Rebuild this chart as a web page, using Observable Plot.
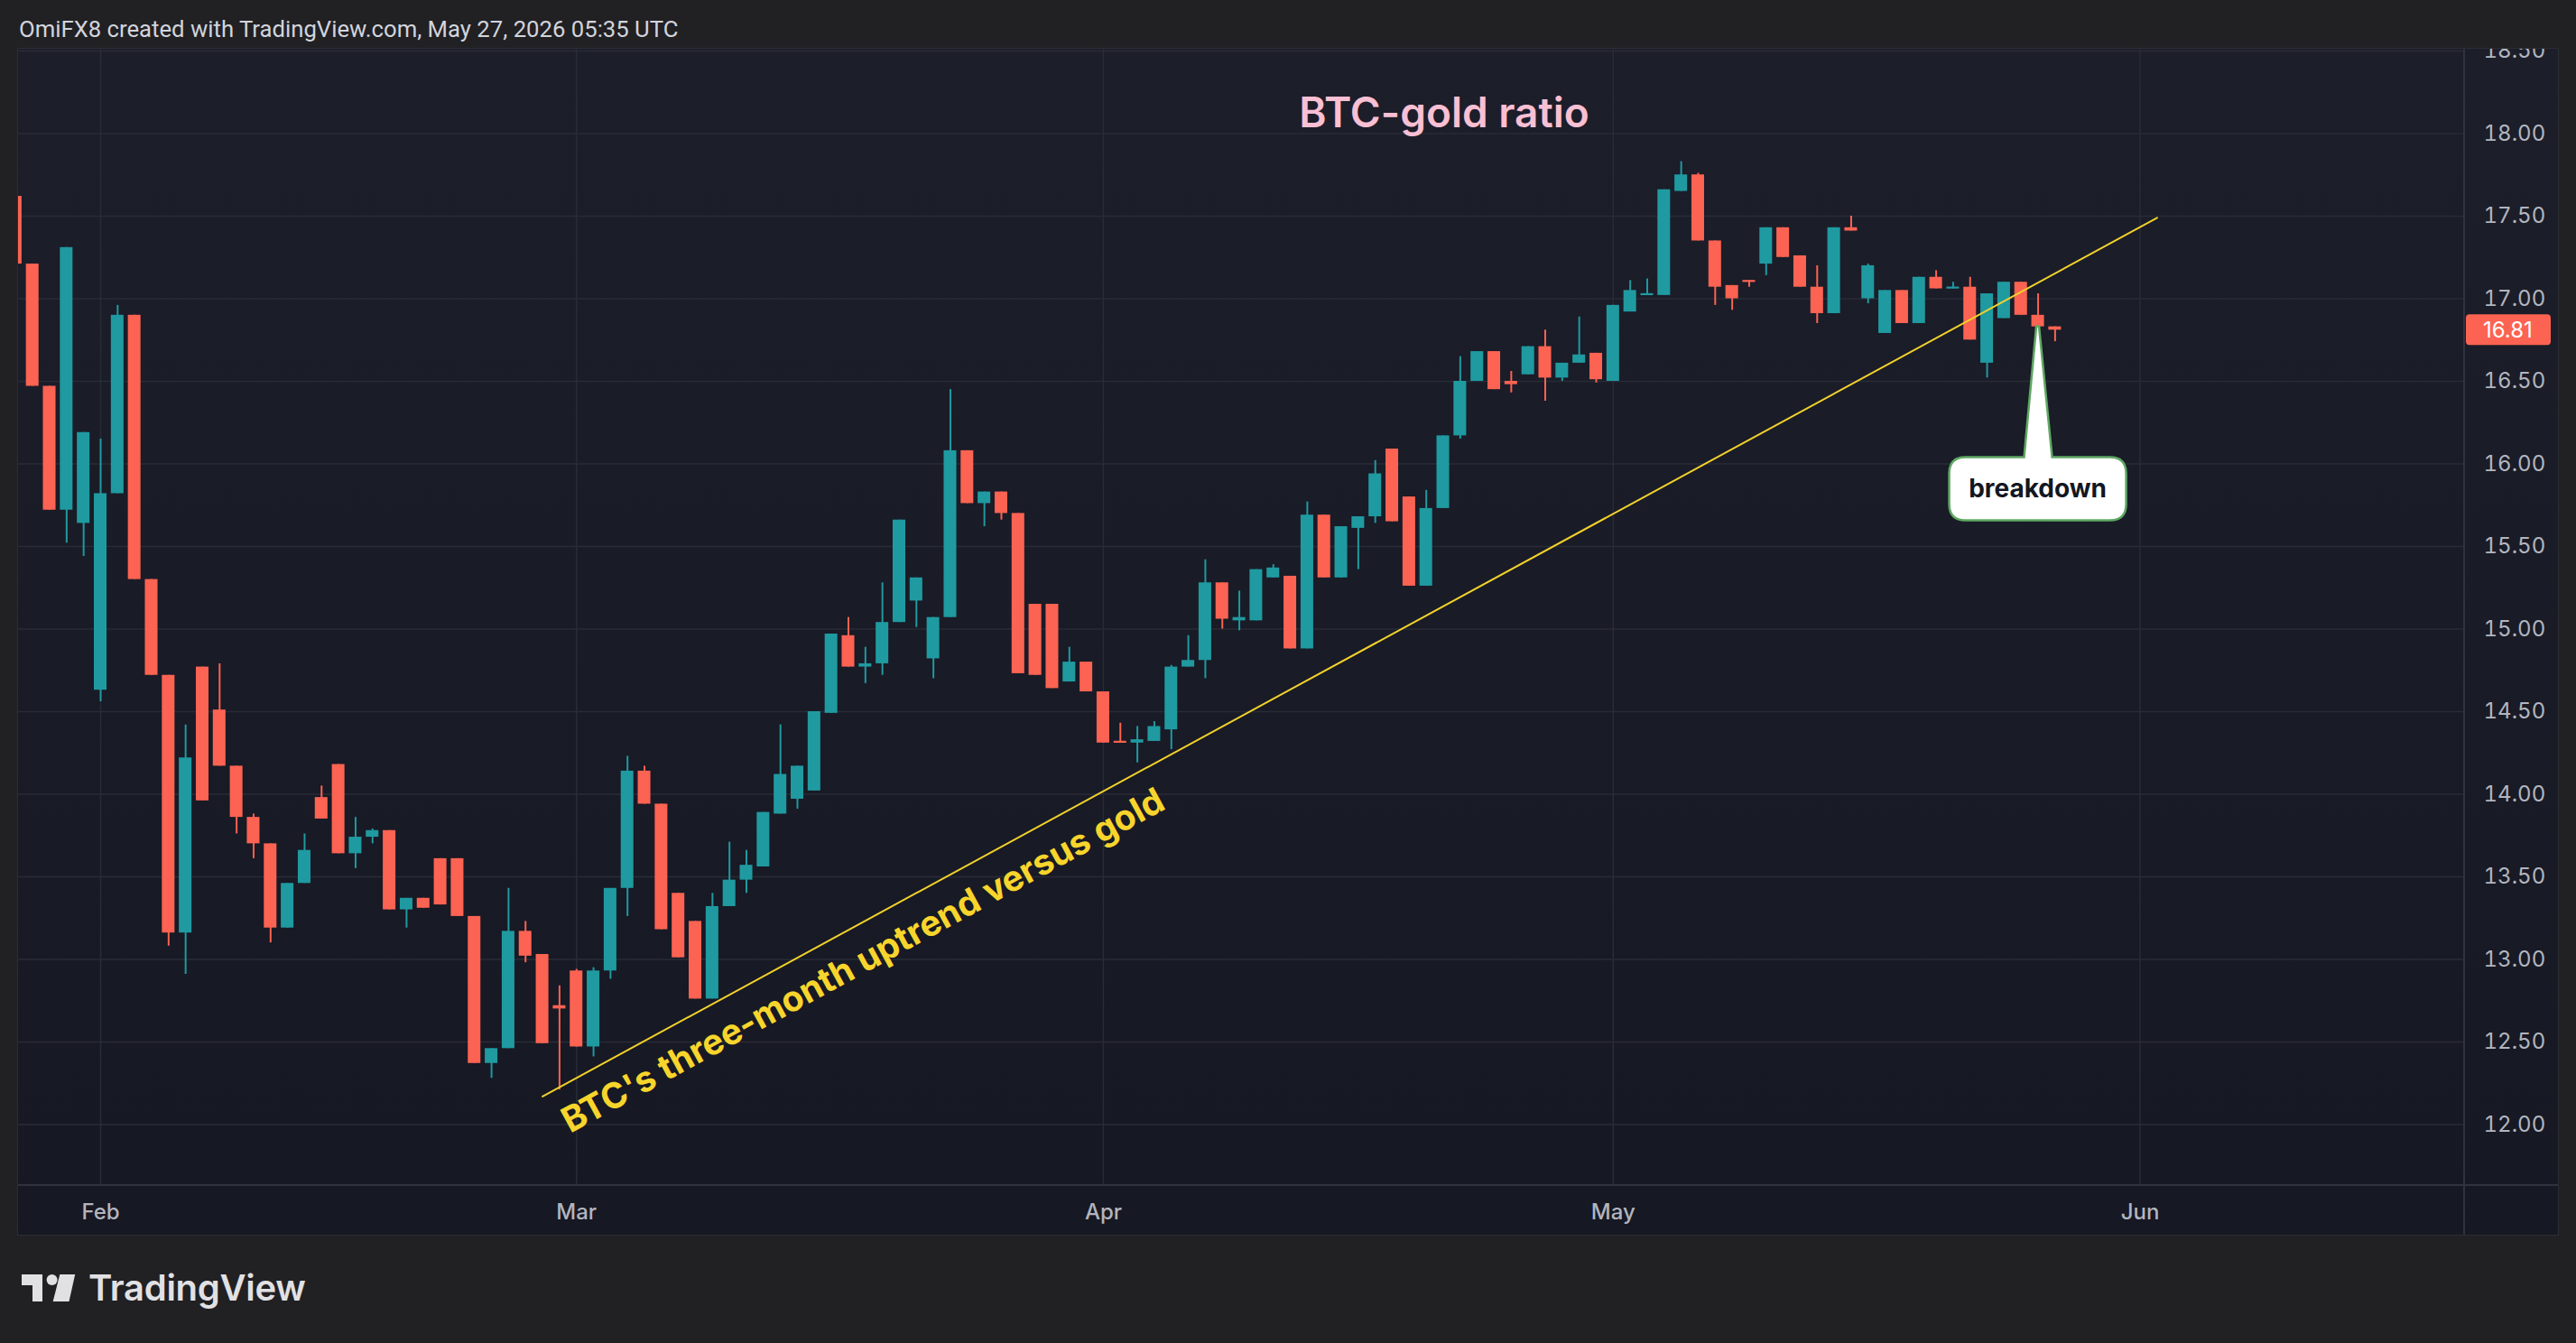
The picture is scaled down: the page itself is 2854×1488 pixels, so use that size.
<!DOCTYPE html>
<html>
<head>
<meta charset="utf-8">
<script src="https://cdn.jsdelivr.net/npm/d3@7"></script>
<script src="https://cdn.jsdelivr.net/npm/@observablehq/plot@0.6"></script>
<style>
  html, body { margin: 0; padding: 0; width: 2854px; height: 1488px; overflow: hidden; background: #212023; font-family: Inter, "Noto Sans", sans-serif; }
  #header { position: absolute; left: 21px; top: 20px; font: 400 25.7px/25px Roboto, sans-serif; color: #d1d4dc; white-space: nowrap; }
  #pane { position: absolute; left: 19px; top: 53px; width: 2814px; height: 1314px; border: 1px solid #2c2d34; overflow: hidden; background: linear-gradient(#1c1e2a, #161823); }
  #pane svg { display: block; }
  #title { position: absolute; left: 1600px; top: 101px; transform: translateX(-50%); font: 600 46px/46px Inter, sans-serif; color: #f9bfd3; white-space: nowrap; }
  #logo { position: absolute; left: 24px; top: 1407px; height: 50px; }
  #logo svg { position: absolute; left: 0; top: 5px; }
  #logo span { position: absolute; left: 74px; top: 0; font: 600 40px/40px Inter, sans-serif; color: #e1e1e4; white-space: nowrap; letter-spacing: -0.3px; }
</style>
</head>
<body>
<div id="header">OmiFX8 created with TradingView.com, May 27, 2026 05:35 UTC</div>
<div id="pane"></div>
<div id="title">BTC-gold ratio</div>
<div id="logo">
  <svg width="62" height="32" viewBox="0 0 62 32">
    <path d="M0 0 H23 V30 H12 V12 H0 Z" fill="#e1e1e4"/>
    <circle cx="33.6" cy="6" r="6" fill="#e1e1e4"/>
    <path d="M34.7 30 L52.5 30 L59.2 0 L42.3 0 Z" fill="#e1e1e4"/>
  </svg>
  <span>TradingView</span>
</div>
<script>
// ---------- data (daily candles, Jan 27 – May 27, 2026) ----------
const firstDay = "2026-01-27";
const lastDay = "2026-05-27";

const open = [
  17.62, 17.21, 16.47, 15.72, 15.64, 14.63, 15.82, 16.90, 15.30, 14.72,
  13.16, 14.77, 14.51, 14.17, 13.86, 13.70, 13.19, 13.46, 13.98, 14.18,
  13.64, 13.74, 13.78, 13.30, 13.37, 13.61, 13.61, 13.26, 12.37, 12.46,
  13.17, 13.03, 12.72, 12.93, 12.47, 12.93, 13.43, 14.14, 13.94, 13.40,
  13.23, 12.76, 13.32, 13.48, 13.56, 13.88, 13.97, 14.02, 14.49, 14.96,
  14.77, 14.79, 15.04, 15.17, 14.82, 15.07, 16.08, 15.76, 15.83, 15.70,
  15.15, 15.15, 14.68, 14.80, 14.62, 14.32, 14.31, 14.32, 14.39, 14.77,
  14.81, 15.28, 15.05, 15.05, 15.31, 15.32, 14.88, 15.69, 15.31, 15.61,
  15.68, 16.09, 15.80, 15.26, 15.73, 16.17, 16.50, 16.68, 16.50, 16.54,
  16.71, 16.52, 16.61, 16.67, 16.50, 16.92, 17.02, 17.02, 17.65, 17.75,
  17.35, 17.08, 17.11, 17.21, 17.43, 17.26, 17.07, 16.91, 17.43, 17.00,
  16.79, 17.05, 16.85, 17.13, 17.06, 17.07, 16.61, 16.88, 17.10, 16.90,
  16.83
];
const high = [
  17.62, 17.21, 16.47, 17.31, 16.19, 16.15, 16.96, 16.90, 15.30, 14.72,
  14.42, 14.77, 14.79, 14.17, 13.88, 13.70, 13.46, 13.76, 14.05, 14.18,
  13.86, 13.79, 13.78, 13.37, 13.37, 13.61, 13.61, 13.26, 12.46, 13.43,
  13.23, 13.03, 12.84, 12.94, 12.95, 13.43, 14.23, 14.17, 13.94, 13.40,
  13.23, 13.40, 13.71, 13.66, 13.89, 14.42, 14.17, 14.50, 14.97, 15.07,
  14.89, 15.28, 15.66, 15.31, 15.07, 16.45, 16.08, 15.83, 15.83, 15.70,
  15.15, 15.15, 14.89, 14.80, 14.62, 14.43, 14.41, 14.44, 14.78, 14.96,
  15.42, 15.28, 15.23, 15.36, 15.39, 15.32, 15.77, 15.69, 15.62, 15.68,
  16.02, 16.09, 15.80, 15.84, 16.17, 16.65, 16.68, 16.68, 16.56, 16.71,
  16.81, 16.61, 16.89, 16.67, 16.96, 17.11, 17.12, 17.66, 17.83, 17.76,
  17.35, 17.08, 17.11, 17.43, 17.43, 17.26, 17.20, 17.43, 17.50, 17.21,
  17.05, 17.05, 17.13, 17.17, 17.10, 17.13, 17.03, 17.10, 17.10, 17.03,
  16.83
];
const low = [
  17.21, 16.47, 15.72, 15.52, 15.44, 14.56, 15.82, 15.30, 14.72, 13.08,
  12.91, 13.96, 14.17, 13.76, 13.61, 13.10, 13.19, 13.46, 13.85, 13.64,
  13.55, 13.70, 13.30, 13.19, 13.31, 13.33, 13.26, 12.37, 12.28, 12.46,
  12.98, 12.49, 12.21, 12.47, 12.41, 12.88, 13.26, 13.94, 13.18, 13.01,
  12.76, 12.76, 13.32, 13.40, 13.56, 13.88, 13.91, 14.02, 14.49, 14.77,
  14.67, 14.72, 15.04, 15.01, 14.70, 15.07, 15.76, 15.62, 15.66, 14.73,
  14.72, 14.64, 14.68, 14.62, 14.31, 14.31, 14.19, 14.32, 14.27, 14.77,
  14.70, 15.00, 14.99, 15.05, 15.31, 14.88, 14.88, 15.31, 15.31, 15.36,
  15.64, 15.65, 15.26, 15.26, 15.73, 16.15, 16.50, 16.45, 16.43, 16.54,
  16.38, 16.50, 16.61, 16.49, 16.50, 16.92, 17.02, 17.02, 17.65, 17.35,
  16.96, 16.93, 17.07, 17.14, 17.25, 17.07, 16.85, 16.91, 17.41, 16.97,
  16.79, 16.85, 16.85, 17.06, 17.06, 16.75, 16.52, 16.88, 16.90, 16.83,
  16.74
];
const close = [
  17.21, 16.47, 15.72, 17.31, 16.19, 15.82, 16.90, 15.30, 14.72, 13.16,
  14.22, 13.96, 14.17, 13.86, 13.70, 13.19, 13.46, 13.66, 13.85, 13.64,
  13.74, 13.78, 13.30, 13.37, 13.31, 13.33, 13.26, 12.37, 12.46, 13.17,
  13.02, 12.49, 12.70, 12.47, 12.93, 13.43, 14.14, 13.94, 13.18, 13.01,
  12.76, 13.32, 13.48, 13.57, 13.89, 14.12, 14.17, 14.50, 14.97, 14.77,
  14.79, 15.04, 15.66, 15.31, 15.07, 16.08, 15.76, 15.83, 15.70, 14.73,
  14.72, 14.64, 14.80, 14.62, 14.31, 14.31, 14.33, 14.41, 14.77, 14.81,
  15.28, 15.06, 15.07, 15.36, 15.37, 14.88, 15.69, 15.31, 15.62, 15.68,
  15.94, 15.65, 15.26, 15.73, 16.17, 16.50, 16.68, 16.45, 16.48, 16.71,
  16.52, 16.61, 16.66, 16.51, 16.96, 17.05, 17.03, 17.66, 17.75, 17.35,
  17.07, 17.00, 17.10, 17.43, 17.25, 17.07, 16.91, 17.43, 17.41, 17.20,
  17.05, 16.85, 17.13, 17.06, 17.07, 16.75, 17.03, 17.10, 16.90, 16.83,
  16.81
];

// price-axis ticks and month ticks
const yTicks = [12.0, 12.5, 13.0, 13.5, 14.0, 14.5, 15.0, 15.5, 16.0, 16.5, 17.0, 17.5, 18.0, 18.5];
const monthTicks = ["2026-02-01", "2026-03-01", "2026-04-01", "2026-05-01", "2026-06-01"];

// trend line (two anchor points) and its label
const trendDates = ["2026-02-27", "2026-06-02"];
const trendValues = [12.17, 17.49];
const trendLabel = "BTC's three-month uptrend versus gold";
const trendLabelDate = "2026-03-17T21:00Z";
const trendLabelValue = 12.99;

// callout
const calloutText = "breakdown";
const calloutIndex = 119;

// ---------- styles ----------
const UP = "#1f9aa0", DOWN = "#fc6352", GRID = "#282c37", AXIS_TEXT = "#b2b5be", TREND = "#f2d12b";
const DAY = 864e5;

const dates = d3.utcDay.range(new Date(firstDay), new Date(+new Date(lastDay) + DAY));
const candles = dates.map((date, i) => ({date, open: open[i], high: high[i], low: low[i], close: close[i]}));
const trend = trendDates.map((d, i) => ({date: new Date(d), value: trendValues[i]}));
const months = monthTicks.map(d => new Date(d));
const colorOf = d => d.close >= d.open ? UP : DOWN;
const minBody = 0.006;
const bodyLo = d => Math.abs(d.close - d.open) < 2 * minBody ? (d.open + d.close) / 2 - minBody : Math.min(d.open, d.close);
const bodyHi = d => Math.abs(d.close - d.open) < 2 * minBody ? (d.open + d.close) / 2 + minBody : Math.max(d.open, d.close);

const feb1 = +new Date("2026-02-01");
const xDomain = [new Date(feb1 - 4.833 * DAY), new Date(feb1 + 139.09 * DAY)];
const yDomain = [11.631, 18.511];

function chrome(index, scales, values, dims) {
  const {width, height, marginRight, marginBottom} = dims;
  const g = d3.create("svg:g");
  g.append("line").attr("x1", width - marginRight).attr("x2", width - marginRight)
    .attr("y1", 0).attr("y2", height).attr("stroke", "#30333e").attr("stroke-width", 2);
  g.append("line").attr("x1", 0).attr("x2", width)
    .attr("y1", height - marginBottom).attr("y2", height - marginBottom)
    .attr("stroke", "#30333e").attr("stroke-width", 2);
  return g.node();
}

function lastPrice(index, scales, values, dims) {
  const v = close[close.length - 1];
  const y = scales.y(v);
  const x0 = dims.width - dims.marginRight + 2;
  const g = d3.create("svg:g");
  g.append("rect").attr("x", x0).attr("y", y - 17).attr("width", 94).attr("height", 34)
    .attr("rx", 4).attr("fill", DOWN);
  g.append("text").attr("x", x0 + 19).attr("y", y).attr("dy", "0.35em")
    .attr("text-anchor", "start")
    .attr("fill", "#ffffff").attr("font-size", 24).attr("font-family", "Inter, sans-serif")
    .text(d3.format(".2f")(v));
  return g.node();
}

function callout(index, scales, values, dims) {
  const tx = scales.x(dates[calloutIndex]);
  const ty = scales.y(close[calloutIndex]);
  const w = 196, h = 70, r = 18, gap = 145;
  const bx = tx - w / 2, by = ty + gap;
  const p = [
    `M${bx + r},${by}`,
    `L${tx - 15},${by}`,
    `L${tx - 1.5},${ty}`,
    `L${tx + 1.5},${ty}`,
    `L${tx + 16},${by}`,
    `L${bx + w - r},${by}`,
    `Q${bx + w},${by} ${bx + w},${by + r}`,
    `L${bx + w},${by + h - r}`,
    `Q${bx + w},${by + h} ${bx + w - r},${by + h}`,
    `L${bx + r},${by + h}`,
    `Q${bx},${by + h} ${bx},${by + h - r}`,
    `L${bx},${by + r}`,
    `Q${bx},${by} ${bx + r},${by}`,
    "Z"
  ].join(" ");
  const g = d3.create("svg:g");
  g.append("path").attr("d", p).attr("fill", "#ffffff").attr("stroke", "#5fa863").attr("stroke-width", 2.5);
  g.append("text").attr("x", tx).attr("y", by + h / 2).attr("dy", "0.35em")
    .attr("text-anchor", "middle").attr("font-size", 28).attr("font-weight", 700)
    .attr("font-family", "Inter, sans-serif").attr("fill", "#131722").text(calloutText);
  return g.node();
}

const chart = Plot.plot({
  width: 2814,
  height: 1314,
  marginLeft: 0,
  marginRight: 104,
  marginTop: 0,
  marginBottom: 55,
  style: {background: "transparent", fontFamily: "Inter, sans-serif", color: AXIS_TEXT, overflow: "hidden"},
  x: {type: "utc", domain: xDomain, label: null},
  y: {domain: yDomain, label: null},
  marks: [
    Plot.ruleY(yTicks, {stroke: GRID, strokeWidth: 1.5}),
    Plot.ruleX(months, {stroke: GRID, strokeWidth: 1.5}),
    Plot.axisY(yTicks, {anchor: "right", tickSize: 0, tickPadding: 21, tickFormat: d3.format(".2f"), fontSize: 24, fill: AXIS_TEXT, label: null}),
    Plot.axisX(months, {anchor: "bottom", tickSize: 0, tickPadding: 20, tickFormat: d3.utcFormat("%b"), fontSize: 24, fontWeight: 500, fill: AXIS_TEXT, label: null}),
    Plot.ruleX(candles, {x: "date", y1: "low", y2: "high", stroke: colorOf, strokeWidth: 2}),
    Plot.rect(candles, {
      x1: d => new Date(+d.date - DAY / 2),
      x2: d => new Date(+d.date + DAY / 2),
      y1: bodyLo, y2: bodyHi,
      fill: colorOf, insetLeft: 2.4, insetRight: 2.4
    }),
    Plot.line(trend, {x: "date", y: "value", stroke: TREND, strokeWidth: 2}),
    Plot.text([trendLabel], {
      x: () => new Date(trendLabelDate), y: () => trendLabelValue, text: d => d,
      rotate: -28.6, fontSize: 39, fontWeight: 700, fill: "#f7d52c", fontFamily: "Inter, sans-serif"
    }),
    callout,
    lastPrice,
    chrome
  ]
});
document.getElementById("pane").appendChild(chart);
</script>
</body>
</html>
